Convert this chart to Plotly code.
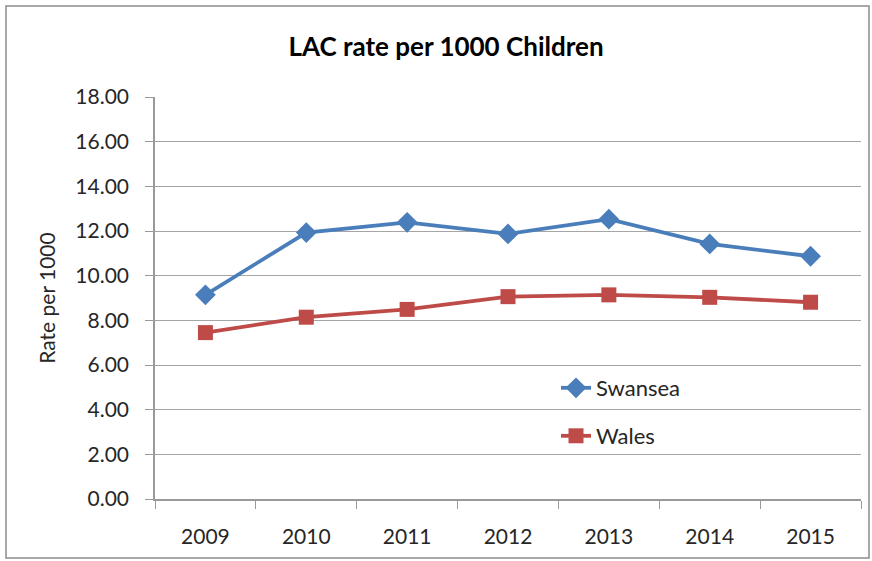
import plotly.graph_objects as go

years = ["2009", "2010", "2011", "2012", "2013", "2014", "2015"]
swansea = [9.14, 11.93, 12.39, 11.87, 12.53, 11.42, 10.87]
wales = [7.45, 8.14, 8.49, 9.06, 9.14, 9.03, 8.81]

FONT = "Lato, sans-serif"
BLUE = "#4a7ebb"
RED = "#be4b48"

fig = go.Figure()
fig.add_trace(go.Scatter(x=years, y=swansea, name="Swansea", mode="lines+markers",
                         line=dict(color=BLUE, width=3.8),
                         marker=dict(symbol="diamond", size=16, color=BLUE),
                         showlegend=True, legend="legend"))
fig.add_trace(go.Scatter(x=years, y=wales, name="Wales", mode="lines+markers",
                         line=dict(color=RED, width=3.8),
                         marker=dict(symbol="square", size=15, color=RED),
                         showlegend=True, legend="legend2"))

L, R, T, B = 155, 11, 97, 62
W, H = 872, 561
pw = W - L - R
ph = H - T - B

def px(x):
    return (x - L) / pw

def py(y):
    return (H - B - y) / ph

fig.update_layout(
    width=W, height=H,
    showlegend=True,
    margin=dict(l=L, r=R, t=T, b=B, pad=0),
    paper_bgcolor="white", plot_bgcolor="white",
    font=dict(family=FONT, size=21, color="#262626"),
    title=dict(text="<b>LAC rate per 1000 Children</b>", xref="paper", x=px(446), xanchor="center",
               y=1 - 47 / H, yanchor="middle", font=dict(size=26, color="#000000")),
    legend=dict(x=px(556), y=py(388), xanchor="left", yanchor="middle",
                bgcolor="rgba(0,0,0,0)", font=dict(size=22, color="#262626")),
    legend2=dict(x=px(556), y=py(436), xanchor="left", yanchor="middle",
                 bgcolor="rgba(0,0,0,0)", font=dict(size=22, color="#262626")),
    xaxis=dict(type="category", range=[-0.5, 6.5], showgrid=False,
               showline=True, linecolor="#999999", linewidth=1.5,
               ticks="outside", tickson="boundaries", ticklen=8, tickcolor="#999999",
               tickfont=dict(size=21), ticklabelstandoff=18),
    yaxis=dict(range=[0, 18], dtick=2, tickformat=".2f", showgrid=True,
               gridcolor="#a6a6a6", gridwidth=1.2,
               showline=True, linecolor="#999999", linewidth=1.5,
               ticks="outside", ticklen=8, tickcolor="#999999",
               tickfont=dict(size=21), ticklabelstandoff=12,
               title=dict(text="Rate per 1000", font=dict(size=21), standoff=14),
               zeroline=False),
    shapes=[dict(type="rect", xref="paper", yref="paper",
                 x0=px(6), x1=px(869), y0=py(558), y1=py(6),
                 line=dict(color="#8c8c8c", width=1.5), layer="below")],
)

fig.write_html("out.html")
